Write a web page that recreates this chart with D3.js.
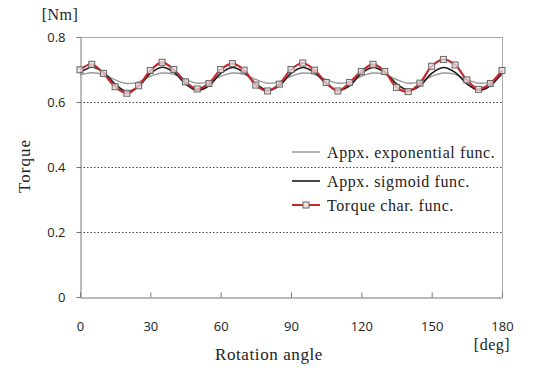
<!DOCTYPE html>
<html><head><meta charset="utf-8">
<script src="https://cdn.jsdelivr.net/npm/d3@7"></script>
<style>body{margin:0;background:#fff}svg{display:block}</style>
</head><body>
<svg id="c" width="534" height="370"></svg>
<script>
const angles = [0,5,10,15,20,25,30,35,40,45,50,55,60,65,70,75,80,85,90,95,100,105,110,115,120,125,130,135,140,145,150,155,160,165,170,175,180];
const torqueChar = [0.699,0.716,0.688,0.647,0.627,0.650,0.697,0.722,0.700,0.662,0.640,0.657,0.700,0.718,0.698,0.652,0.634,0.655,0.700,0.720,0.698,0.660,0.634,0.660,0.694,0.716,0.694,0.645,0.632,0.658,0.710,0.731,0.714,0.668,0.639,0.657,0.697];
const sigmoidFunc = [0.690,0.707,0.692,0.655,0.632,0.648,0.688,0.707,0.692,0.656,0.636,0.650,0.688,0.706,0.691,0.656,0.636,0.650,0.688,0.706,0.691,0.656,0.636,0.650,0.688,0.706,0.691,0.656,0.636,0.650,0.688,0.706,0.691,0.656,0.636,0.650,0.690];
const expFunc = [0.683,0.690,0.685,0.668,0.657,0.662,0.679,0.689,0.685,0.669,0.658,0.662,0.679,0.689,0.685,0.669,0.658,0.662,0.679,0.689,0.685,0.669,0.658,0.662,0.679,0.689,0.685,0.669,0.658,0.662,0.679,0.689,0.685,0.669,0.658,0.662,0.683];
const xTicks = [0,30,60,90,120,150,180];
const yTicks = [0,0.2,0.4,0.6,0.8];
const legendLabels = ["Appx. exponential func.","Appx. sigmoid func.","Torque char. func."];

const svg = d3.select("#c");
const L=80,R=502,T=37,B=297;
const x = d3.scaleLinear().domain([0,180]).range([L,R]);
const y = d3.scaleLinear().domain([0,0.8]).range([B,T]);
const sans = "'Open Sans', 'Noto Sans', sans-serif";
const serif = "'Liberation Serif', serif";

// gridlines
svg.append("g").selectAll("line").data(yTicks.filter(v=>v>0&&v<0.8)).join("line")
  .attr("x1",L).attr("x2",R).attr("y1",d=>y(d)+0.5).attr("y2",d=>y(d)+0.5)
  .attr("stroke","#444").attr("stroke-width",1).attr("stroke-dasharray","1.5,2");

// frame top/right
svg.append("line").attr("x1",L).attr("x2",R).attr("y1",T+0.5).attr("y2",T+0.5).attr("stroke","#aaa");
svg.append("line").attr("x1",R+0.5).attr("x2",R+0.5).attr("y1",T).attr("y2",B).attr("stroke","#aaa");

// axes
const xAxis = d3.axisBottom(x).tickValues(xTicks).tickSizeInner(-5).tickSizeOuter(0).tickPadding(24).tickFormat(d3.format("d"));
const gx = svg.append("g").attr("transform",`translate(0,${B+0.5})`).call(xAxis);
gx.select(".domain").attr("stroke","#777");
gx.selectAll(".tick line").attr("stroke","#777");
gx.selectAll("text").attr("font-family",sans).attr("font-size",13).attr("fill","#222");

const yAxis = d3.axisLeft(y).tickValues(yTicks).tickSizeInner(4).tickSizeOuter(0).tickPadding(11).tickFormat(d=>d===0?"0":d3.format(".1f")(d));
const gy = svg.append("g").attr("transform",`translate(${L+0.5},0)`).call(yAxis);
gy.select(".domain").attr("stroke","#777");
gy.selectAll(".tick line").attr("stroke","#777");
gy.selectAll("text").attr("font-family",sans).attr("font-size",13).attr("fill","#222");

// lines
const mk = vals => d3.line().x((d,i)=>x(angles[i])).y(d=>y(d)).curve(d3.curveCatmullRom.alpha(0.5))(vals);
svg.append("path").attr("d",mk(expFunc)).attr("fill","none").attr("stroke","#9a9a9a").attr("stroke-width",1.5);
svg.append("path").attr("d",mk(sigmoidFunc)).attr("fill","none").attr("stroke","#1a1a1a").attr("stroke-width",1.6);
svg.append("path").attr("d",mk(torqueChar)).attr("fill","none").attr("stroke","#c8262c").attr("stroke-width",2.2);
svg.append("g").selectAll("rect").data(torqueChar).join("rect")
  .attr("x",(d,i)=>x(angles[i])-3).attr("y",d=>y(d)-3).attr("width",6).attr("height",6)
  .attr("fill","#eadede").attr("fill-opacity",0.75).attr("stroke","#666").attr("stroke-width",1);

// legend
const lg = svg.append("g");
const rows = [{y:152,c:"#9a9a9a",w:1.5},{y:181,c:"#1a1a1a",w:1.6},{y:205,c:"#c8262c",w:2,m:true}];
rows.forEach((r,i)=>{
  lg.append("line").attr("x1",292).attr("x2",320).attr("y1",r.y).attr("y2",r.y).attr("stroke",r.c).attr("stroke-width",r.w);
  if(r.m) lg.append("rect").attr("x",303).attr("y",r.y-3).attr("width",6).attr("height",6).attr("fill","#eadede").attr("stroke","#666");
  lg.append("text").attr("x",327).attr("y",r.y).attr("dy","0.35em").attr("font-family",serif).attr("font-size",16).attr("letter-spacing",0.6).attr("fill","#222").text(legendLabels[i]);
});

// titles
svg.append("text").attr("x",60).attr("y",14).attr("dy","0.35em").attr("text-anchor","middle").attr("font-family",serif).attr("font-size",16).attr("letter-spacing",0.5).attr("fill","#222").text("[Nm]");
svg.append("text").attr("x",492).attr("y",344).attr("dy","0.35em").attr("text-anchor","middle").attr("font-family",serif).attr("font-size",16).attr("letter-spacing",0.5).attr("fill","#222").text("[deg]");
svg.append("text").attr("x",269).attr("y",354).attr("dy","0.35em").attr("text-anchor","middle").attr("font-family",serif).attr("font-size",17).attr("letter-spacing",0.6).attr("fill","#222").text("Rotation angle");
svg.append("text").attr("transform","translate(24,166) rotate(-90)").attr("dy","0.35em").attr("text-anchor","middle").attr("font-family",serif).attr("font-size",17).attr("letter-spacing",1).attr("fill","#222").text("Torque");
</script>
</body></html>
